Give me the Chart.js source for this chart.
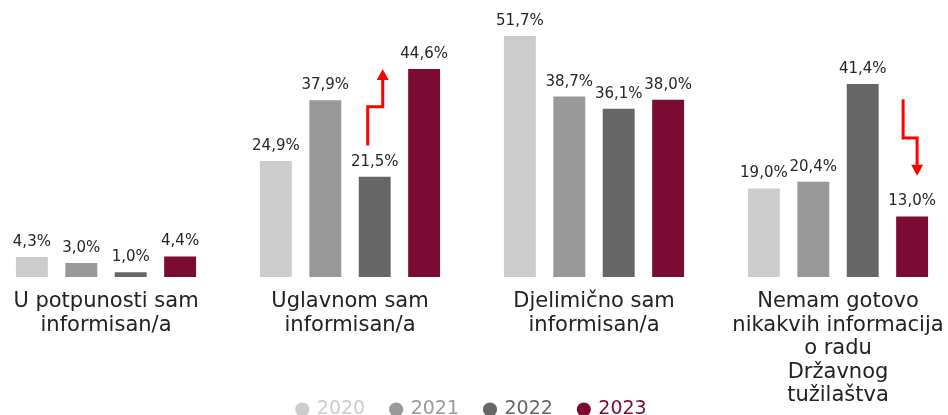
<!DOCTYPE html>
<html>
<head>
<meta charset="utf-8">
<script src="https://cdn.jsdelivr.net/npm/chart.js@4"></script>
<style>
  html, body { margin: 0; padding: 0; background: #fff; overflow: hidden; }
  #wrap { position: absolute; left: -16px; top: 0; width: 976px; height: 415px; }
</style>
</head>
<body>
<div id="wrap"><canvas id="chart"></canvas></div>
<script>
// categories + yearly shares (%)
const categories = [
  ['U potpunosti sam', 'informisan/a'],
  ['Uglavnom sam', 'informisan/a'],
  ['Djelimično sam', 'informisan/a'],
  ['Nemam gotovo', 'nikakvih informacija', 'o radu', 'Državnog', 'tužilaštva']
];
const years = ['2020', '2021', '2022', '2023'];
const colors = ['#cccccc', '#999999', '#666666', '#7a0c33'];
const v2020 = [4.3, 24.9, 51.7, 19.0];
const v2021 = [3.0, 37.9, 38.7, 20.4];
const v2022 = [1.0, 21.5, 36.1, 41.4];
const v2023 = [4.4, 44.6, 38.0, 13.0];

// trend arrows: y in % units, x relative to a bar centre
const arrows = [
  { cat: 1, ds: 2, dx1: -7, dx2: 8, from: 28.2, bend: 36.5, to: 44.6 },
  { cat: 3, ds: 3, dx1: -9, dx2: 5, from: 38.1, bend: 29.8, to: 21.7 }
];

const FONT = '"DejaVu Sans"';

const barLabels = {
  id: 'barLabels',
  afterDatasetsDraw(chart) {
    const ctx = chart.ctx;
    ctx.save();
    ctx.font = '15px ' + FONT;
    ctx.fillStyle = '#262626';
    ctx.textAlign = 'center';
    ctx.textBaseline = 'alphabetic';
    chart.data.datasets.forEach((ds, i) => {
      chart.getDatasetMeta(i).data.forEach((bar, j) => {
        const txt = ds.data[j].toFixed(1).replace('.', ',') + '%';
        ctx.fillText(txt, bar.x, bar.y - 11);
      });
    });
    ctx.restore();
  }
};

const trendArrows = {
  id: 'trendArrows',
  afterDatasetsDraw(chart) {
    const ctx = chart.ctx;
    const y = chart.scales.y;
    ctx.save();
    ctx.strokeStyle = '#ff0000';
    ctx.fillStyle = '#ff0000';
    ctx.lineWidth = 3;
    arrows.forEach(a => {
      const bar = chart.getDatasetMeta(a.ds).data[a.cat];
      const x1 = bar.x + a.dx1, x2 = bar.x + a.dx2;
      const y0 = y.getPixelForValue(a.from);
      const yb = y.getPixelForValue(a.bend);
      const yt = y.getPixelForValue(a.to);
      const dir = yt < y0 ? 1 : -1;
      const head = 11;
      ctx.beginPath();
      ctx.moveTo(x1, y0);
      ctx.lineTo(x1, yb);
      ctx.lineTo(x2, yb);
      ctx.lineTo(x2, yt + dir * head);
      ctx.stroke();
      ctx.beginPath();
      ctx.moveTo(x2, yt);
      ctx.lineTo(x2 - 6, yt + dir * head);
      ctx.lineTo(x2 + 6, yt + dir * head);
      ctx.closePath();
      ctx.fill();
    });
    ctx.restore();
  }
};

// let the long last category label run past the axis box
const unclipTicks = {
  id: 'unclipTicks',
  afterLayout(chart) {
    chart.scales.x.bottom = chart.height;
  }
};

new Chart(document.getElementById('chart'), {
  type: 'bar',
  data: {
    labels: categories,
    datasets: [
      { label: years[0], data: v2020, backgroundColor: colors[0] },
      { label: years[1], data: v2021, backgroundColor: colors[1] },
      { label: years[2], data: v2022, backgroundColor: colors[2] },
      { label: years[3], data: v2023, backgroundColor: colors[3] }
    ]
  },
  options: {
    responsive: true,
    maintainAspectRatio: false,
    animation: false,
    categoryPercentage: 0.81,
    barPercentage: 0.646,
    layout: { padding: { top: 0, bottom: -14 } },
    scales: {
      x: {
        grid: { display: false, drawTicks: false },
        border: { display: false },
        ticks: {
          color: '#222',
          font: { family: FONT, size: 21, lineHeight: 1.12 },
          padding: 13, maxRotation: 0, autoSkip: false
        },
        afterFit: s => { s.height = 97; }
      },
      y: { display: false, min: 0, max: 59.4 }
    },
    plugins: {
      tooltip: { enabled: false },
      legend: {
        position: 'bottom',
        labels: {
          usePointStyle: true,
          pointStyle: 'circle',
          boxHeight: 10,
          boxWidth: 10,
          padding: 26,
          font: { family: FONT, size: 19 },
          generateLabels(chart) {
            const items = Chart.defaults.plugins.legend.labels.generateLabels(chart);
            items.forEach((it, i) => {
              it.fontColor = colors[i];
              it.fillStyle = colors[i];
              it.strokeStyle = colors[i];
              it.lineWidth = 0;
            });
            return items;
          }
        }
      }
    }
  },
  plugins: [barLabels, trendArrows, unclipTicks]
});
</script>
</body>
</html>
